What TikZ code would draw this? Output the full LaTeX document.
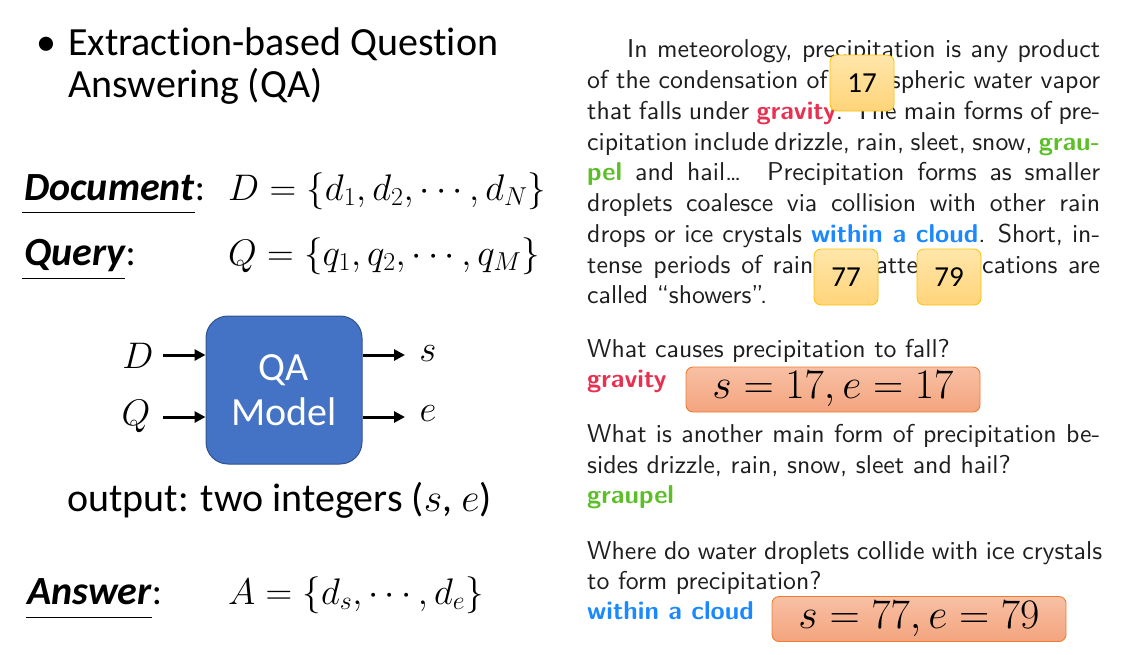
\documentclass[tikz,border=0pt]{standalone}
\usepackage{fix-cm}
\usepackage{graphicx}
\usepackage{fontspec}
\setmainfont{Carlito}[Ligatures=NoCommon]
\usetikzlibrary{arrows.meta}
\definecolor{gravred}{RGB}{232,48,80}
\definecolor{graugreen}{RGB}{92,190,40}
\definecolor{cloudblue}{RGB}{26,136,255}
\definecolor{qablue}{RGB}{68,114,196}
\definecolor{qaborder}{RGB}{47,82,143}
\definecolor{numfillt}{RGB}{255,230,170}
\definecolor{numfillb}{RGB}{255,212,122}
\definecolor{numborder}{RGB}{255,192,0}
\definecolor{ansfillt}{RGB}{248,192,164}
\definecolor{ansfillb}{RGB}{243,164,126}
\definecolor{ansborder}{RGB}{237,125,49}
\definecolor{paratext}{RGB}{30,30,30}
\newcommand{\gv}[1]{\textcolor{gravred}{\bfseries #1}}
\newcommand{\gp}[1]{\textcolor{graugreen}{\bfseries #1}}
\newcommand{\wc}[1]{\textcolor{cloudblue}{\bfseries #1}}
\newcommand{\psc}{2.58}
\newcommand{\jl}[2]{\scalebox{\psc}{\hbox to #1{#2}}}
\newcommand{\nl}[1]{\scalebox{\psc}{#1}}
\tikzset{
  big/.style={inner sep=0pt, anchor=base west, font=\fontsize{40}{48}\selectfont},
  lbl/.style={inner sep=0pt, anchor=base west, font=\fontsize{40}{48}\selectfont\bfseries\itshape},
  colon/.style={inner sep=0pt, anchor=base west, font=\fontsize{38}{46}\selectfont},
  mth/.style={inner sep=0pt, anchor=base west, font=\fontsize{37}{44}\selectfont},
  io/.style={inner sep=0pt, font=\fontsize{37}{44}\selectfont},
  para/.style={inner sep=0pt, anchor=base west, text=paratext, font=\sffamily\fontsize{10}{12}\selectfont},
  numbox/.style={draw=numborder, line width=0.8pt, top color=numfillt, bottom color=numfillb,
    rounded corners=7pt, minimum width=64pt, minimum height=56pt, inner sep=0pt,
    font=\fontsize{29}{32}\selectfont},
  ansbox/.style={draw=ansborder, line width=0.9pt, top color=ansfillt, bottom color=ansfillb,
    rounded corners=7pt, minimum width=294pt, minimum height=45pt, inner sep=0pt,
    font=\fontsize{42}{46}\selectfont},
  arr/.style={line width=3pt, -{Triangle[length=11pt,width=11pt]}},
  uline/.style={line width=1pt}
}
\begin{document}
\begin{tikzpicture}[x=1pt,y=-1pt]
\useasboundingbox (0,0) rectangle (1129,654);
% ---------- left column ----------
\node[big] (bul) at (36,55) {\textbullet};
\node[big] (t1) at (68,55) {Extraction-based Question};
\node[big] (t2) at (68,97) {Answering (QA)};

\node[lbl] (doc) at (24,200) {Document};
\node[colon] (docc) at (doc.base east) {:};
\draw[uline] (doc.base west) ++(-2,12) coordinate (du1) -- (doc.base east |- du1);
\node[mth] (dset) at (228,200) {$D=\{d_1,d_2,\cdots,d_N\}$};

\node[lbl] (qry) at (24,265) {Query};
\node[colon] (qryc) at (qry.base east) {:};
\draw[uline] (qry.base west) ++(-2,13) coordinate (qu1) -- (qry.base east |- qu1);
\node[mth] (qset) at (228,265) {$Q=\{q_1,q_2,\cdots,q_M\}$};

\node[draw=qaborder, line width=1pt, fill=qablue, rounded corners=22pt,
      minimum width=156pt, minimum height=148pt, text=white, align=center,
      font=\fontsize{40}{45}\selectfont] (qa) at (284,390) {QA\\Model};

\node[io] (din) at (138,356) {$D$};
\node[io] (qin) at (136,416) {$Q$};
\node[io] (sout) at (428,354) {$s$};
\node[io] (eout) at (428,414) {$e$};
\coordinate (da) at (163,355);
\coordinate (qa1) at (163,417);
\coordinate (sa) at (405,355);
\coordinate (ea) at (405,417);
\draw[arr] (da) -- (qa.west |- da);
\draw[arr] (qa1) -- (qa.west |- qa1);
\draw[arr] (qa.east |- sa) -- (sa);
\draw[arr] (qa.east |- ea) -- (ea);

\node[big] (outp) at (67,511) {output: two integers ($s$, $e$)};

\node[lbl] (ans) at (27,604) {Answer};
\node[colon] (ansc) at (ans.base east) {:};
\draw[uline] (ans.base west) ++(-1,13) coordinate (au1) -- (ans.base east |- au1);
\node[mth] (aset) at (228,604) {$A=\{d_s,\cdots,d_e\}$};

% ---------- right column ----------
\node[para] (p1) at (627,57) {\jl{183.3pt}{In meteorology, precipitation is any product}};
\node[para] (p2) at (587,88) {\jl{198.8pt}{of the condensation of atmospheric water vapor}};
\node[para] (p3) at (587,119) {\jl{198.8pt}{that falls under \gv{gravity}. The main forms of pre-}};
\node[para] (p4) at (587,150) {\jl{198.8pt}{cipitation include drizzle, rain, sleet, snow, \gp{grau-}}};
\node[para] (p5) at (587,180) {\jl{198.8pt}{\gp{pel} and hail\ldots\ \ Precipitation forms as smaller}};
\node[para] (p6) at (587,211) {\jl{198.8pt}{droplets coalesce via collision with other rain}};
\node[para] (p7) at (587,242) {\jl{198.8pt}{drops or ice crystals \wc{within a cloud}. Short, in-}};
\node[para] (p8) at (587,273) {\jl{198.8pt}{tense periods of rain in scattered locations are}};
\node[para] (p9) at (587,303) {\nl{called ``showers''.}};

\node[numbox] (n17) at (862,83) {17};
\node[numbox] (n77) at (846,277) {77};
\node[numbox] (n79) at (949,277) {79};

\node[para] (q1) at (587,357) {\nl{What causes precipitation to fall?}};
\node[para] (a1) at (587,387) {\nl{\gv{gravity}}};
\node[ansbox] (b1) at (833,389.5) {$s=17,e=17$};

\node[para] (q2a) at (587,442) {\jl{198.8pt}{What is another main form of precipitation be-}};
\node[para] (q2b) at (587,473) {\nl{sides drizzle, rain, snow, sleet and hail?}};
\node[para] (a2) at (587,503) {\nl{\gp{graupel}}};

\node[para] (q3a) at (587,559) {\jl{199.6pt}{Where do water droplets collide with ice crystals}};
\node[para] (q3b) at (587,589) {\nl{to form precipitation?}};
\node[para] (a3) at (587,619) {\nl{\wc{within a cloud}}};
\node[ansbox] (b2) at (919,619) {$s=77,e=79$};
\end{tikzpicture}
\end{document}
